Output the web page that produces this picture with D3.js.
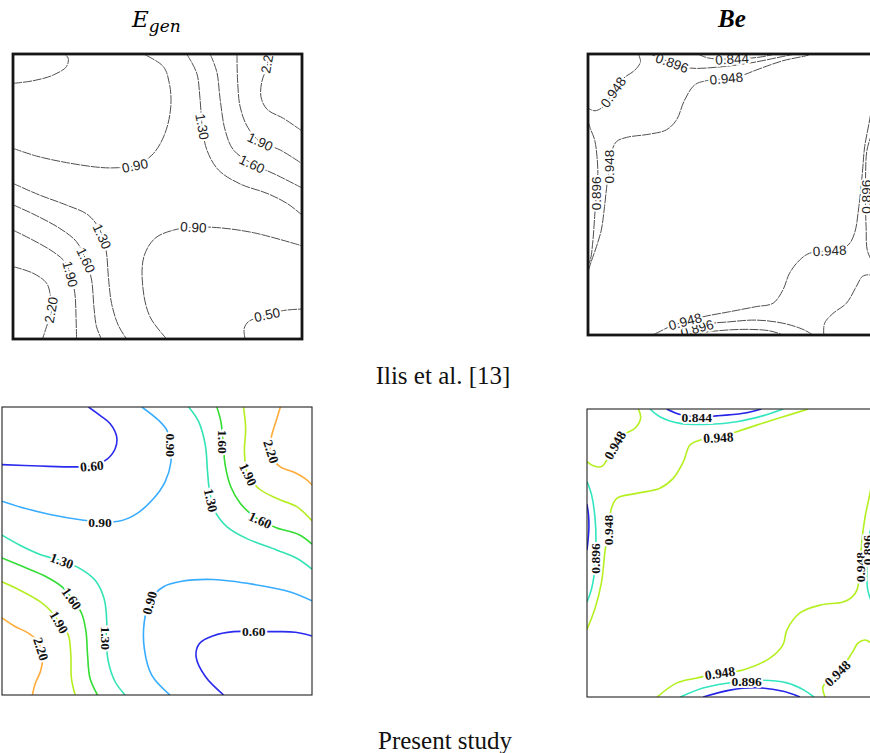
<!DOCTYPE html>
<html>
<head>
<meta charset="utf-8">
<script src="https://cdn.jsdelivr.net/npm/d3@7"></script>
<style>
  body { margin: 0; background: #fff; }
  svg { display: block; }
</style>
</head>
<body>
<svg id="fig" width="870" height="753"></svg>
<script>
// contour levels
var egenLevels = ["0.50", "0.60", "0.90", "1.30", "1.60", "1.90", "2.20"];
var beLevels = ["0.844", "0.896", "0.948"];

// each line: level, points [x, y] in 0..100 (y from top), labels [x, y, angle]
var ilisEgenLines = [
  {level: "0.50", pts: [[0,10.3],[6.9,9.4],[13.9,7.4],[18.5,4.4],[19.1,1.5],[17.9,0]], labels: []},
  {level: "0.90", pts: [[0,33.1],[8.1,35.8],[18.5,38.1],[30.1,39.8],[36.4,39.9],[42.8,39.0],[48.6,34.9],[52.6,27.8],[54.6,18.5],[54.1,10.3],[52.0,4.4],[45.1,0]], labels: [[42.2,39.2,-12]]},
  {level: "1.30", pts: [[60.1,0],[63.6,6.8],[64.7,15.6],[65.5,25.5],[67.1,33.7],[71.1,40.7],[78.6,45.6],[87.9,48.9],[94.8,52.4],[100,56.5]], labels: [[65.5,25.5,80]]},
  {level: "1.60", pts: [[68.2,0],[70.5,6.2],[71.7,16.1],[73.4,26.7],[76.3,33.7],[82.7,38.4],[91.3,42.5],[100,47]], labels: [[82.7,38.6,25]]},
  {level: "1.90", pts: [[77.5,0],[77.7,9.1],[78.6,18.5],[81.2,25.7],[85.5,30.8],[92.5,33.7],[100,38.5]], labels: [[85.5,30.8,25]]},
  {level: "2.20", pts: [[88.4,0],[87.9,4.4],[86.1,9.7],[85.8,15.0],[87.9,19.4],[93.6,22.6],[100,27]], labels: [[88.1,2.2,-80]]},
  {level: "0.90", pts: [[53.2,100],[47.4,92.2],[44.9,81.6],[45.3,71.1],[49.1,64.7],[55.5,61.8],[62.4,60.8],[70.5,60.9],[83.2,62.7],[100,67.3]], labels: [[62.4,60.8,3]]},
  {level: "0.50", pts: [[80.3,100],[80.0,96.3],[81.5,93.9],[86.7,91.9],[93.6,90.0],[100,89.5]], labels: [[87.9,91.5,-12]]},
  {level: "1.30", pts: [[0,45.4],[9.2,49.5],[18.5,53.0],[26.0,56.5],[30.1,61.8],[32.2,68.8],[33.0,78.1],[34.1,87.5],[36.4,95.1],[39.3,100]], labels: [[30.8,64,65]]},
  {level: "1.60", pts: [[0,52.9],[8.1,56.7],[16.2,61.2],[22.0,65.9],[25.2,72.3],[27.2,79.3],[28.0,88.7],[28.9,95.7],[30.6,100]], labels: [[25.2,72.3,65]]},
  {level: "1.90", pts: [[0,61.8],[6.9,65.3],[13.9,69.4],[17.9,72.9],[19.9,77.5],[21.4,84.0],[21.8,92.1],[22.0,100]], labels: [[19.8,77.2,75]]},
  {level: "2.20", pts: [[0,74.6],[6.9,76.9],[11.6,80.4],[12.9,84.6],[13.3,90.4],[11.6,95.7],[10.2,100]], labels: [[13.2,89.8,-80]]}
];

var presentEgenLines = [
  {level: "0.60", pts: [[0,20.0],[12.3,20.5],[24.1,20.8],[29.0,20.5],[33.8,18.2],[36.5,14.5],[37.0,10.4],[34.9,5.8],[31.6,2.9],[27.9,0]], labels: [[29.0,20.5,-5]]},
  {level: "0.90", pts: [[0,32.7],[5.8,34.7],[15.5,37.3],[26.3,39.3],[31.6,39.9],[37.6,39.7],[43.5,37.0],[48.9,31.8],[52.6,26.0],[54.5,19.1],[54.3,13.3],[53.2,8.1],[50.5,4.6],[45.1,0]], labels: [[31.6,39.9,0], [54.3,13.3,90]]},
  {level: "1.30", pts: [[0,44.5],[5.8,48],[12.3,51.2],[19.3,53.4],[25.2,56.1],[30.0,60.1],[32.9,66.4],[33.8,74.6],[33.6,80.3],[34.3,88.4],[36.5,95.4],[39.7,100]], labels: [[19.3,53.4,20], [33.6,80.3,90]]},
  {level: "1.60", pts: [[0,52.4],[6.9,55.5],[14.4,59],[19.3,62.4],[22.5,66.5],[25.7,71.7],[27.1,78.0],[27.6,86.1],[28.4,94.2],[30.8,100]], labels: [[22.5,66.5,55]]},
  {level: "1.90", pts: [[0,60.7],[5.8,63.6],[12.3,67.6],[16.0,71.1],[18.7,75.1],[21.4,79.2],[22.2,86.1],[22.4,94.2],[23.6,100]], labels: [[18.4,74.7,60]]},
  {level: "2.20", pts: [[0,73.2],[4.2,76.2],[8.5,78.5],[11.7,81.6],[13.1,86.9],[12.5,91.5],[10.7,96.1],[9.8,100]], labels: [[12.6,84,72]]},
  {level: "0.90", pts: [[54.2,100],[48.3,93.1],[45.9,83.8],[45.9,74.6],[47.8,67.1],[52.1,62.4],[58.0,60.5],[68.2,59.9],[81.2,61.6],[93.0,64.2],[100,67.3]], labels: [[47.6,68,-75]]},
  {level: "0.60", pts: [[71.5,100],[65.6,93.6],[62.6,86.7],[63.7,82.1],[68.2,79.4],[74.7,78.0],[81.2,78.0],[88.7,78.0],[94.6,78.2],[100,79.5]], labels: [[81.2,78.0,0]]},
  {level: "1.30", pts: [[60.2,0],[63.4,5.0],[65.6,13.3],[66.3,22.5],[67.0,29.5],[68.8,36.4],[72.6,41.6],[79.0,45.7],[88.7,49.7],[95.2,52.6],[100,56.3]], labels: [[67.4,32.4,78]]},
  {level: "1.60", pts: [[69.3,0],[70.6,5.0],[71.3,12.1],[72.0,20.2],[73.8,27.7],[76.9,33.5],[82.2,38.7],[88.7,42.0],[95.7,44.3],[100,47.6]], labels: [[71.3,12.1,90], [83.3,39.3,25]]},
  {level: "1.90", pts: [[77.9,0],[78.6,7.5],[78.2,15.6],[79.2,23.1],[82.8,28.3],[88.7,31.8],[95.2,34.7],[100,39.5]], labels: [[79.4,23.4,65]]},
  {level: "2.20", pts: [[89.8,0],[88.5,4.6],[86.8,11.0],[86.8,16.8],[89.8,20.8],[94.6,22.8],[97.8,24.9],[100,27]], labels: [[86.8,15.5,72]]}
];

var ilisBeLines = [
  {level: "0.948", pts: [[17.3,0],[18.1,2.7],[16.2,5.7],[12.2,8.7],[8.7,13.4],[5.3,18.7],[2.4,20.2],[0,19.3]], labels: [[8.7,13.6,-55]]},
  {level: "0.896", pts: [[21.4,0],[24.8,1.4],[29,3.2],[35.2,5.0],[45.5,4.6],[55.9,3.2],[66.2,1.1],[71.4,0]], labels: [[29,3.2,20]]},
  {level: "0.844", pts: [[37.9,0],[41.4,1.4],[49.7,1.8],[59.3,1.1],[64.5,0]], labels: [[49.7,1.8,-3]]},
  {level: "0.948", pts: [[76.5,0],[75.9,0.4],[67.2,2.4],[58.0,5.7],[53.4,7.5],[47.7,8.7],[40.8,9.5],[36.8,11.0],[33.3,16.4],[30.5,23.5],[27.0,27.0],[21.3,28.5],[13.2,29.7],[9.8,31.2],[8.0,35.3],[7.5,40.1],[6.6,46.0],[5.7,54.3],[4.6,62.6],[2.9,68.6],[1.1,73.9],[0,77.5]], labels: [[47.7,8.7,-5], [7.5,40.1,-90]]},
  {level: "0.896", pts: [[0,24],[0.8,26.5],[2.3,30.6],[3.1,36.5],[3.4,42.5],[2.9,49.6],[2.3,57.9],[1.7,66.3],[0.8,73.3],[0,75]], labels: [[2.9,49.6,-90]]},
  {level: "0.948", pts: [[98,18],[96.9,24.7],[95.4,33.0],[94.6,42.5],[93.4,54.3],[91.9,63.8],[89.7,68.0],[85.6,69.5],[83.3,70.0],[76.4,70.9],[73.0,73.3],[69.5,78.0],[67.2,84.0],[63.8,88.7],[58.0,89.9],[48.9,91.7],[39.7,93.5],[33.5,95.2],[28.2,97.0],[24.1,99.1],[22,100]], labels: [[83.3,70.0,-3]]},
  {level: "0.896", pts: [[31.6,100],[37.4,98.0],[39.7,96.4],[48.9,95.3],[58.0,94.7],[67.2,95.8],[74.1,98.0],[77.6,100]], labels: [[37.6,97.6,-15]]},
  {level: "0.948", pts: [], labels: [[33.5,95.2,-15]]},
  {level: "0.844", pts: [[35.1,100],[41.9,98.8],[53.4,98.0],[62.6,98.5],[67.2,100]], labels: []},
  {level: "0.948", pts: [[81.3,100],[81.6,95.8],[84.5,92.3],[89.1,88.7],[92.5,82.8],[94.6,79.2],[96.9,78.6],[100,80]], labels: []},
  {level: "0.896", pts: [[98,28],[96.2,34.2],[95.7,44.8],[95.7,54.3],[95.9,61.7],[96.3,69.8],[98,74]], labels: [[95.8,50.8,-90]]}
];

var presentBeLines = [
  {level: "0.948", pts: [[16.6,0],[17.3,3.2],[15.5,6.7],[11.7,9.0],[9.0,12.5],[6.7,17.1],[4.7,20.0],[2.0,19.7],[0,18.3]], labels: [[9.0,12.6,-60]]},
  {level: "0.896", pts: [[20.3,0],[23.5,2.7],[30.0,5.0],[39.7,5.3],[48.3,4.4],[56.9,2.3],[63.3,0]], labels: []},
  {level: "0.844", pts: [[25.7,0],[30.0,1.9],[35.4,2.7],[41.8,2.4],[50.4,1.5],[56.3,0]], labels: [[35.4,2.7,0]]},
  {level: "0.948", pts: [[71.4,0],[63.3,2.7],[54.7,5.6],[48.3,7.9],[42.4,9.9],[36.5,10.8],[33.2,12.5],[31.1,18.3],[27.8,24.1],[23.5,27.5],[16.0,29.3],[9.6,31.0],[7.9,34.5],[7.2,39.1],[6.9,42.0],[5.8,49.5],[4.7,60.0],[2.6,69.2],[0,76.5]], labels: [[42.4,9.9,-3], [6.9,42.0,-90]]},
  {level: "0.896", pts: [[0,25.2],[1.5,29.9],[2.6,38.0],[2.9,46.1],[2.6,53.0],[2.3,57.6],[1.5,62.3],[0,67.0]], labels: [[2.7,51.9,-90]]},
  {level: "0.844", pts: [[0,33],[0.5,37],[0.6,41.5],[0.3,46],[0,49]], labels: []},
  {level: "0.948", pts: [[94,14],[92.5,22],[91.3,29.2],[89.7,37.5],[88.7,45.5],[88.1,54.9],[87.1,62.8],[85.5,65.3],[82.6,67.0],[75.2,68.1],[68.7,70.8],[64.5,76.7],[63.2,81.9],[59.0,86.5],[50.3,90.6],[42.9,91.7],[35.5,93.4],[29.0,95.1],[22.6,100]], labels: [[88.1,54.9,-90], [42.9,91.7,-8]]},
  {level: "0.896", pts: [[30.1,100],[37.4,96.9],[44.6,95.3],[54.7,94.2],[64.5,95.1],[70,97.6],[73.2,100]], labels: [[51.5,94.5,0]]},
  {level: "0.844", pts: [[37.5,100],[46.1,97.6],[54.7,96.8],[63.3,98.0],[68.7,100]], labels: []},
  {level: "0.948", pts: [[76.8,100],[76.1,96.5],[78.5,93.8],[81.0,91.7],[85.5,84.7],[87.4,81.3],[89.7,80.2],[91.3,80.9],[95,82]], labels: [[80.8,91.8,-45]]},
  {level: "0.896", pts: [[93,36],[90.6,46.5],[90.3,54.9],[90.6,63],[93,70]], labels: [[90.5,49,-90]]}
];

var egenColor = d3.scaleOrdinal(egenLevels,
  ["#2b2bef", "#2b2bef", "#38acff", "#33e3b4", "#33dd33", "#b4ee22", "#ffab3a"]);
var beColor = d3.scaleOrdinal(beLevels, ["#2424e8", "#33e6c0", "#b4f020"]);

var svg = d3.select("#fig");

function drawPanel(id, box, lines, st) {
  var x = d3.scaleLinear().domain([0, 100]).range([box.x, box.x + box.w]);
  var y = d3.scaleLinear().domain([0, 100]).range([box.y, box.y + box.h]);
  var line = d3.line()
    .x(function(d) { return x(d[0]); })
    .y(function(d) { return y(d[1]); })
    .curve(d3.curveCatmullRom.alpha(0.5));

  svg.append("clipPath").attr("id", id)
    .append("rect").attr("x", box.x).attr("y", box.y).attr("width", box.w).attr("height", box.h);

  var g = svg.append("g").attr("clip-path", "url(#" + id + ")");

  g.selectAll("path.c")
    .data(lines.filter(function(d) { return d.pts.length; }))
    .join("path")
    .attr("class", "c")
    .attr("d", function(d) { return line(d.pts); })
    .attr("fill", "none")
    .attr("stroke", function(d) { return st.color(d.level); })
    .attr("stroke-width", st.width)
    .attr("stroke-dasharray", st.dash || null);

  // labels sit on a white halo so the line gets a gap
  lines.forEach(function(l) {
    l.labels.forEach(function(lb) {
      g.append("text")
        .attr("transform", "translate(" + x(lb[0]) + "," + y(lb[1]) + ") rotate(" + lb[2] + ")")
        .attr("text-anchor", "middle")
        .attr("dy", "0.35em")
        .attr("font-family", st.font)
        .attr("font-weight", st.weight)
        .attr("font-size", st.size)
        .attr("fill", st.textColor)
        .attr("stroke", "#fff")
        .attr("stroke-width", 4)
        .attr("paint-order", "stroke")
        .text(l.level);
    });
  });

  svg.append("rect")
    .attr("x", box.x).attr("y", box.y).attr("width", box.w).attr("height", box.h)
    .attr("fill", "none").attr("stroke", st.border).attr("stroke-width", st.borderWidth);
}

var ilisStyle = {color: function() { return "#505050"; }, width: 1, dash: "9,1",
  font: "'Liberation Sans', Arial, sans-serif", weight: "normal", size: 13.5, textColor: "#222",
  border: "#151515", borderWidth: 2.8};
var presentStyle = {width: 1.6, font: "'Liberation Serif', 'Times New Roman', serif",
  weight: "bold", size: 13.5, textColor: "#111", border: "#222", borderWidth: 1.1};

drawPanel("c1", {x: 13, y: 54, w: 289, h: 285}, ilisEgenLines, ilisStyle);
drawPanel("c2", {x: 588, y: 54, w: 290, h: 281}, ilisBeLines, ilisStyle);
drawPanel("c3", {x: 2, y: 407, w: 310, h: 288}, presentEgenLines,
  Object.assign({color: egenColor}, presentStyle));
drawPanel("c4", {x: 587, y: 409, w: 310, h: 288}, presentBeLines,
  Object.assign({color: beColor}, presentStyle));

// titles
var t1 = svg.append("text").attr("x", 132).attr("y", 27)
  .attr("font-family", "'DejaVu Serif', 'Liberation Serif', serif").attr("font-style", "italic")
  .attr("font-size", 23).attr("fill", "#000");
t1.append("tspan").text("E");
t1.append("tspan").attr("dy", 5).attr("font-size", 17).text("gen");

svg.append("text").attr("x", 732).attr("y", 27).attr("text-anchor", "middle")
  .attr("font-family", "'Liberation Serif', 'Times New Roman', serif")
  .attr("font-style", "italic").attr("font-weight", "bold")
  .attr("font-size", 25).attr("fill", "#000").text("Be");

svg.append("text").attr("x", 443).attr("y", 384).attr("text-anchor", "middle")
  .attr("font-family", "'Liberation Serif', 'Times New Roman', serif")
  .attr("font-size", 25).attr("fill", "#111").text("Ilis et al. [13]");

svg.append("text").attr("x", 445).attr("y", 749).attr("text-anchor", "middle")
  .attr("font-family", "'Liberation Serif', 'Times New Roman', serif")
  .attr("font-size", 25).attr("fill", "#111").text("Present study");
</script>
</body>
</html>
